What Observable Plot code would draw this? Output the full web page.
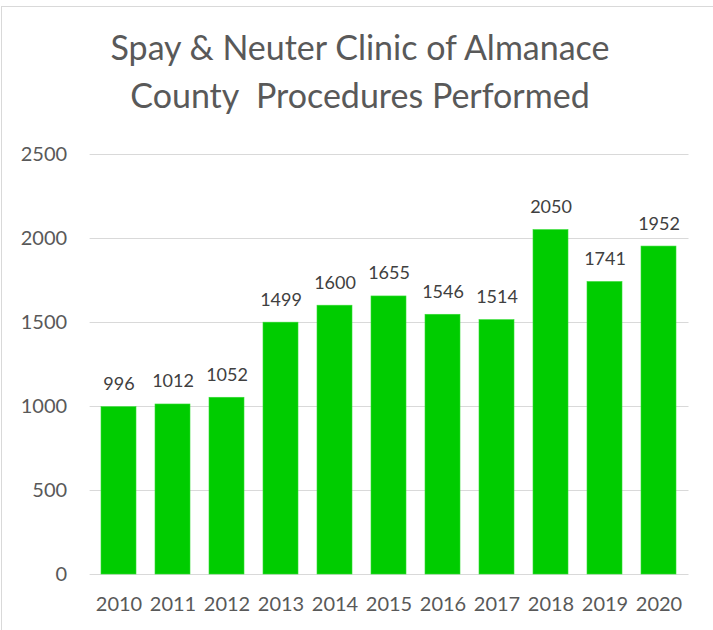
<!DOCTYPE html>
<html>
<head>
<meta charset="utf-8">
<script src="https://cdn.jsdelivr.net/npm/d3@7"></script>
<script src="https://cdn.jsdelivr.net/npm/@observablehq/plot@0.6"></script>
<style>
  html, body { margin: 0; padding: 0; background: #fff; overflow: hidden; }
  #frame { position: absolute; left: 1px; top: 6px; width: 740px; height: 660px; border: 1px solid #d9d9d9; }
  #title { position: absolute; left: 0; top: 23px; width: 720px; text-align: center; font-family: Lato, sans-serif; font-size: 34px; line-height: 48px; color: #595959; }
  #chart { position: absolute; left: 0; top: 130px; }
</style>
</head>
<body>
<div id="frame"></div>
<div id="title">Spay &amp; Neuter Clinic of Almanace<br>County&nbsp; Procedures Performed</div>
<div id="chart"></div>
<script>
const years = ["2010","2011","2012","2013","2014","2015","2016","2017","2018","2019","2020"];
const procedures = [996, 1012, 1052, 1499, 1600, 1655, 1546, 1514, 2050, 1741, 1952];
const yTicks = [0, 500, 1000, 1500, 2000, 2500];

const data = years.map((y, i) => ({year: y, value: procedures[i]}));

const chart = Plot.plot({
  width: 713,
  height: 494,
  marginLeft: 89.6,
  marginRight: 24.5,
  marginTop: 24,
  marginBottom: 50,
  style: {fontFamily: "Lato, sans-serif", color: "#595959", background: "transparent"},
  x: {domain: years, paddingInner: 0.35, paddingOuter: 0.175, label: null},
  y: {domain: [0, 2500], label: null},
  marks: [
    Plot.gridY(yTicks, {stroke: "#d9d9d9", strokeOpacity: 1, strokeWidth: 1}),
    Plot.barY(data, {x: "year", y: "value", fill: "#00cc00", stroke: "#33dd33", strokeWidth: 0.6}),
    Plot.text(data, {x: "year", y: "value", text: d => String(d.value), dy: -17, lineAnchor: "bottom", fontSize: 18, fill: "#404040"}),
    Plot.axisY({ticks: yTicks, tickFormat: d => String(d), tickSize: 0, tickPadding: 23, fontSize: 20, label: null, fill: "#595959"}),
    Plot.axisX({tickSize: 0, tickPadding: 22, fontSize: 20, label: null, fill: "#595959"})
  ]
});
document.getElementById("chart").appendChild(chart);
</script>
</body>
</html>
